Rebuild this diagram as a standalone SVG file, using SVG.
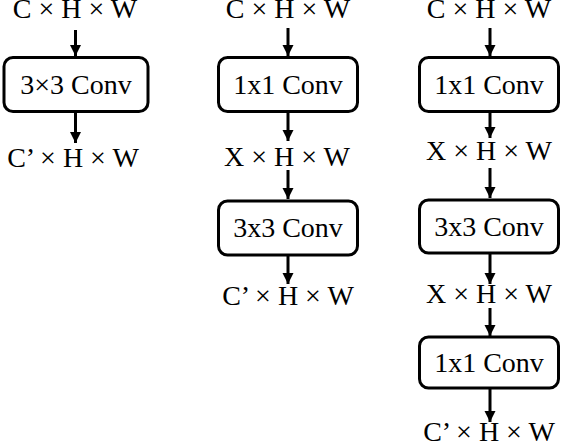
<svg xmlns="http://www.w3.org/2000/svg" width="562" height="444" viewBox="0 0 562 444">
<defs>
<style>
text{font-family:'Liberation Serif','DejaVu Serif','Times New Roman',serif;font-size:28px;fill:#000;text-anchor:middle}
.box{fill:#fff;stroke:#000;stroke-width:3}
.ln{stroke:#000;stroke-width:3;fill:none}
</style>
<marker id="ah" markerUnits="userSpaceOnUse" markerWidth="14" markerHeight="14" viewBox="0 0 14 14" refX="12" refY="7" orient="auto">
<path d="M1,1.5 L12,7 L1,12.5 Z" fill="#000"/>
</marker>
</defs>
<rect width="562" height="444" fill="#fff"/>
<g id="connectors">
<line class="ln" x1="75.5" y1="30" x2="75.5" y2="56" marker-end="url(#ah)"/>
<line class="ln" x1="75.5" y1="112" x2="75.5" y2="143" marker-end="url(#ah)"/>
<line class="ln" x1="288" y1="28" x2="288" y2="56" marker-end="url(#ah)"/>
<line class="ln" x1="288" y1="112" x2="288" y2="141" marker-end="url(#ah)"/>
<line class="ln" x1="288" y1="170" x2="288" y2="199" marker-end="url(#ah)"/>
<line class="ln" x1="288" y1="256" x2="288" y2="284" marker-end="url(#ah)"/>
<line class="ln" x1="490" y1="28" x2="490" y2="56" marker-end="url(#ah)"/>
<line class="ln" x1="490" y1="112" x2="490" y2="138" marker-end="url(#ah)"/>
<line class="ln" x1="490" y1="168" x2="490" y2="198" marker-end="url(#ah)"/>
<line class="ln" x1="490" y1="254" x2="490" y2="284" marker-end="url(#ah)"/>
<line class="ln" x1="490" y1="308" x2="490" y2="336" marker-end="url(#ah)"/>
<line class="ln" x1="490" y1="389" x2="490" y2="422" marker-end="url(#ah)"/>
</g>
<g id="labels">
<text x="75" y="18" style="font-family:'Liberation Serif','DejaVu Serif',serif">C × H × W</text>
<text x="73" y="167" style="font-family:'Liberation Serif','DejaVu Serif',serif">C’ × H × W</text>
<text x="288" y="18" style="font-family:'Liberation Serif','DejaVu Serif',serif">C × H × W</text>
<text x="287" y="166" style="font-family:'Liberation Serif','DejaVu Serif',serif">X × H × W</text>
<text x="288" y="305" style="font-family:'Liberation Serif','DejaVu Serif',serif">C’ × H × W</text>
<text x="489" y="18" style="font-family:'Liberation Serif','DejaVu Serif',serif">C × H × W</text>
<text x="489" y="160" style="font-family:'Liberation Serif','DejaVu Serif',serif">X × H × W</text>
<text x="489" y="303" style="font-family:'Liberation Serif','DejaVu Serif',serif">X × H × W</text>
<text x="489" y="441" style="font-family:'Liberation Serif','DejaVu Serif',serif">C’ × H × W</text>
</g>
<g id="conv3x3-a">
<rect class="box" x="4" y="57.5" width="144" height="54" rx="9"/>
<text x="76" y="94" style="font-family:'Liberation Serif','DejaVu Serif',serif">3×3 Conv</text>
</g>
<g id="conv1x1-b1">
<rect class="box" x="218.5" y="57.5" width="139" height="54" rx="9"/>
<text x="288" y="94" style="font-family:'Liberation Serif','DejaVu Serif',serif">1x1 Conv</text>
</g>
<g id="conv3x3-b2">
<rect class="box" x="218.5" y="201" width="139" height="54" rx="9"/>
<text x="288" y="237" style="font-family:'Liberation Serif','DejaVu Serif',serif">3x3 Conv</text>
</g>
<g id="conv1x1-c1">
<rect class="box" x="419.5" y="57.5" width="139" height="54" rx="9"/>
<text x="489" y="94" style="font-family:'Liberation Serif','DejaVu Serif',serif">1x1 Conv</text>
</g>
<g id="conv3x3-c2">
<rect class="box" x="419.5" y="200" width="139" height="53" rx="9"/>
<text x="489" y="236" style="font-family:'Liberation Serif','DejaVu Serif',serif">3x3 Conv</text>
</g>
<g id="conv1x1-c3">
<rect class="box" x="419.5" y="337" width="139" height="51" rx="9"/>
<text x="489" y="372" style="font-family:'Liberation Serif','DejaVu Serif',serif">1x1 Conv</text>
</g>
</svg>
